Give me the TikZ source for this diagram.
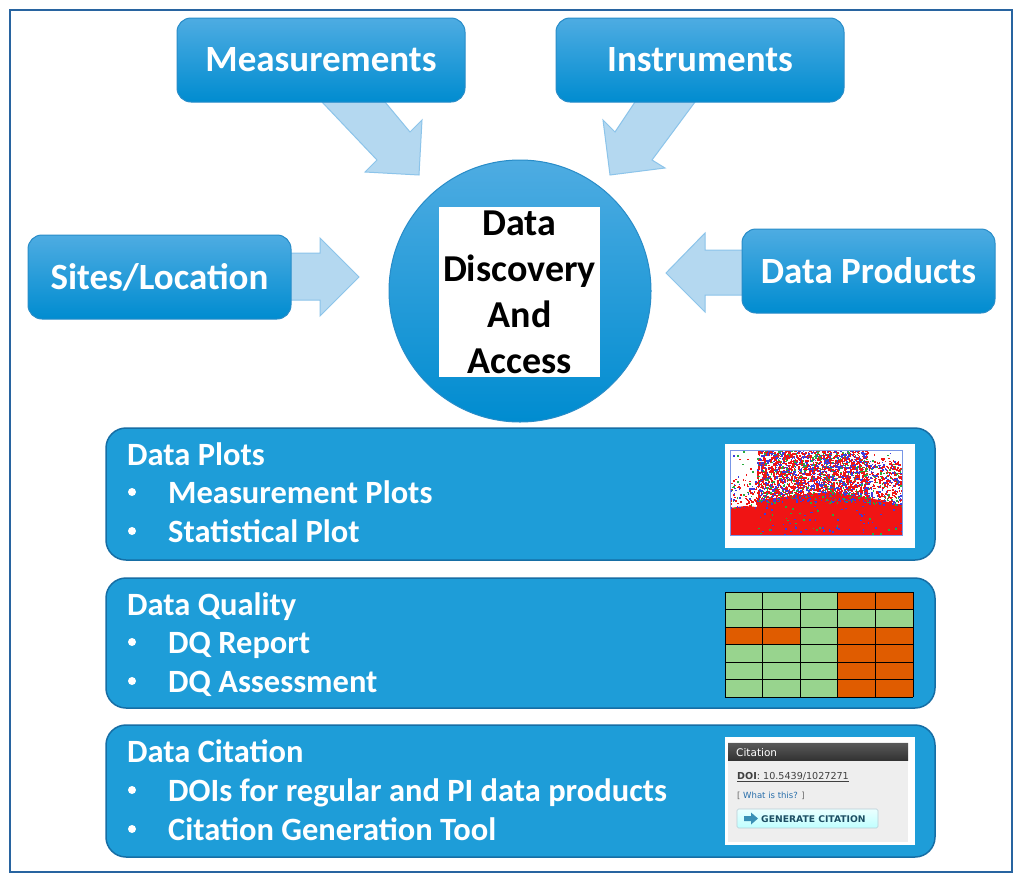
\documentclass[tikz,border=0pt]{standalone}
\usepackage{fontspec}
\setmainfont{Carlito}
\newfontfamily\widgetfont{DejaVu Sans}
\usetikzlibrary{positioning, calc}
\definecolor{frameblue}{RGB}{40,100,160}
\definecolor{boxtop}{RGB}{78,172,226}
\definecolor{boxbot}{RGB}{0,140,208}
\definecolor{boxedge}{RGB}{40,140,200}
\definecolor{panelblue}{RGB}{30,157,216}
\definecolor{paneledge}{RGB}{22,110,165}
\definecolor{arrowfill}{RGB}{180,216,240}
\definecolor{arrowedge}{RGB}{140,196,234}
\definecolor{dqgreen}{RGB}{152,212,142}
\definecolor{dqorange}{RGB}{224,92,0}
\definecolor{plotred}{RGB}{240,20,20}
\definecolor{plotblue}{RGB}{60,60,220}
\definecolor{plotgreen}{RGB}{40,170,60}
\definecolor{plotaxis}{RGB}{120,150,230}
\definecolor{widgetgray}{RGB}{238,238,238}
\definecolor{linkblue}{RGB}{40,110,170}
\definecolor{buttontext}{RGB}{29,78,99}
\definecolor{buttonicon}{RGB}{58,143,181}

\tikzset{
  topbox/.style={rounded corners=14pt, draw=boxedge, line width=1pt,
    top color=boxtop, bottom color=boxbot, text=white, inner sep=0pt,
    font=\fontsize{37}{40}\selectfont\bfseries},
  panel/.style={rounded corners=20pt, draw=paneledge, line width=1.5pt,
    fill=panelblue, minimum width=829pt, inner sep=0pt},
  blockarrow/.style={fill=arrowfill, draw=arrowedge, line width=1pt},
  paneltext/.style={text=white, anchor=base west, inner sep=0pt,
    font=\fontsize{32.5}{36}\selectfont\bfseries},
  bulletmark/.style={circle, fill=white, inner sep=0pt, minimum size=8pt},
  widgettext/.style={anchor=base west, inner sep=0pt}
}

% random specks inside a box: x0, width, y0, height, count
\newcommand{\specks}[5]{%
  \foreach \i in {1,...,#5} {
    \pgfmathsetmacro{\px}{#1+#2*rnd}
    \pgfmathsetmacro{\py}{#3+#4*rnd}
    \pgfmathtruncatemacro{\pc}{7*rnd}
    \ifcase\pc\relax \def\dc{plotred}\or \def\dc{plotred}\or \def\dc{plotred}%
      \or \def\dc{plotred}\or \def\dc{plotblue}\or \def\dc{plotgreen}\else \def\dc{plotblue}\fi
    \fill[\dc] (\px,\py) rectangle ++(1.6,1.6);
  }%
}

\begin{document}
\begin{tikzpicture}[x=1pt, y=-1pt]
    \useasboundingbox (0,0) rectangle (1024,881);
    \fill[white] (0,0) rectangle (1024,881);

    % Outer frame
    \draw[frameblue, line width=1.5pt] (10,10) rectangle (1012,872);

    % Block arrows (behind the boxes)
    \draw[blockarrow] (322,102) -- (377,160) -- (365,172) -- (419,175) -- (422,120) -- (410,132) -- (385,102) -- cycle;
    \draw[blockarrow] (695,102) -- (652,160) -- (665,168) -- (610,175) -- (603,120) -- (615,132) -- (635,102) -- cycle;
    \draw[blockarrow] (285,253) -- (320,253) -- (320,238) -- (359,277) -- (320,316) -- (320,300) -- (285,300) -- cycle;
    \draw[blockarrow] (748,250) -- (705,250) -- (705,233) -- (666,273) -- (705,312) -- (705,295) -- (748,295) -- cycle;

    % Input boxes
    \node[topbox, minimum width=288pt, minimum height=84pt] (meas) at (321,60) {Measurements};
    \node[topbox, minimum width=288pt, minimum height=84pt] (instr) at (700,60) {Instruments};
    \node[topbox, minimum width=263pt, minimum height=84pt] (sites) at (159.5,277) {Sites/Location};
    \node[topbox, minimum width=253pt, minimum height=84pt] (prods) at (868.5,271) {Data Products};

    % Central hub
    \node[circle, minimum size=262pt, draw=boxedge, line width=1pt,
          top color=boxtop, bottom color=boxbot] (hub) at (520,291) {};
    \node[fill=white, minimum width=161pt, minimum height=170pt, inner sep=0pt,
          align=center, font=\fontsize{38}{46}\selectfont\bfseries] (hubtext) at (519.5,292)
          {Data\\Discovery\\And\\Access};

    % Panels
    \node[panel, minimum height=132pt] (plots) at (520.5,494) {};
    \node[panel, minimum height=130pt] (quality) at (520.5,643) {};
    \node[panel, minimum height=132pt] (citation) at (520.5,791) {};

    % Panel texts
    \node[paneltext] (plotshead) at (127,465) {Data Plots};
    \node[bulletmark] (plotsb1) at (132,492) {};
    \node[paneltext] (plotsi1) at (168,503) {Measurement Plots};
    \node[bulletmark] (plotsb2) at (132,531) {};
    \node[paneltext] (plotsi2) at (168,542) {Statistical Plot};

    \node[paneltext] (dqhead) at (127,615) {Data Quality};
    \node[bulletmark] (dqb1) at (132,642) {};
    \node[paneltext] (dqi1) at (168,653) {DQ Report};
    \node[bulletmark] (dqb2) at (132,681) {};
    \node[paneltext] (dqi2) at (168,692) {DQ Assessment};

    \node[paneltext] (cithead) at (127,762) {Data Citation};
    \node[bulletmark] (citb1) at (132,790) {};
    \node[paneltext] (citi1) at (168,801) {DOIs for regular and PI data products};
    \node[bulletmark] (citb2) at (132,829) {};
    \node[paneltext] (citi2) at (168,840) {Citation Generation Tool};

    % Plot thumbnail
    \fill[white] (725,444) rectangle (915,548);
    \fill[plotred] (730,535) -- (730,508) -- (745,506) -- (757,507) -- (757,500) -- (800,495)
        -- (830,492) -- (865,497) -- (902,505) -- (902,535) -- cycle;
    \pgfmathsetseed{42}
    \begin{scope}
        \clip (730,450) rectangle (902,535);
        \specks{757}{110}{450}{52}{2600}
        \specks{865}{37}{460}{45}{420}
        \specks{757}{145}{495}{40}{260}
        \specks{730}{27}{480}{28}{90}
        \specks{730}{172}{450}{30}{80}
    \end{scope}
    \draw[plotaxis, line width=0.6pt] (730,450) rectangle (902,535);

    % Data quality grid
    \fill[dqgreen] (725,592) rectangle (913,697);
    \foreach \c/\r in {3/0,4/0,0/2,1/2,3/2,4/2,3/3,4/3,3/4,4/4,3/5,4/5}
        \fill[dqorange] ({725+37.6*\c},{592+17.5*\r}) rectangle ++(37.6,17.5);
    \foreach \c in {0,...,5}
        \draw[black, line width=1pt] ({725+37.6*\c},592) -- ({725+37.6*\c},697);
    \foreach \r in {0,...,6}
        \draw[black, line width=1pt] (725,{592+17.5*\r}) -- (913,{592+17.5*\r});

    % Citation widget
    \fill[white] (725,737) rectangle (915,845);
    \fill[widgetgray] (728,742) rectangle (908,842);
    \shade[top color=black!65, bottom color=black!80] (728,743) rectangle (908,760);
    \node[widgettext, text=white, font=\widgetfont\fontsize{10.5}{12}\selectfont] (widgethead) at (736,756) {Citation};
    \node[widgettext, text=black!75, font=\widgetfont\fontsize{9.6}{11}\selectfont] (doi) at (737,779)
        {\underline{\textbf{DOI}: 10.5439/1027271}};
    \node[widgettext, text=black!60, font=\widgetfont\fontsize{8.5}{10}\selectfont] (whatis) at (737,798)
        {[ \textcolor{linkblue}{What is this?} ]};
    \draw[top color=cyan!8, bottom color=cyan!25!white, draw=cyan!30!gray!50, line width=0.6pt, rounded corners=1.5pt]
        (737,809) rectangle (878,828);
    \fill[buttonicon] (744,816) -- (751,816) -- (751,812.5) -- (758,818.5) -- (751,824.5) -- (751,821) -- (744,821) -- cycle;
    \node[widgettext, text=buttontext, font=\widgetfont\bfseries\fontsize{9.2}{10}\selectfont] (genbtn) at (761,822.5)
        {GENERATE CITATION};
\end{tikzpicture}
\end{document}
